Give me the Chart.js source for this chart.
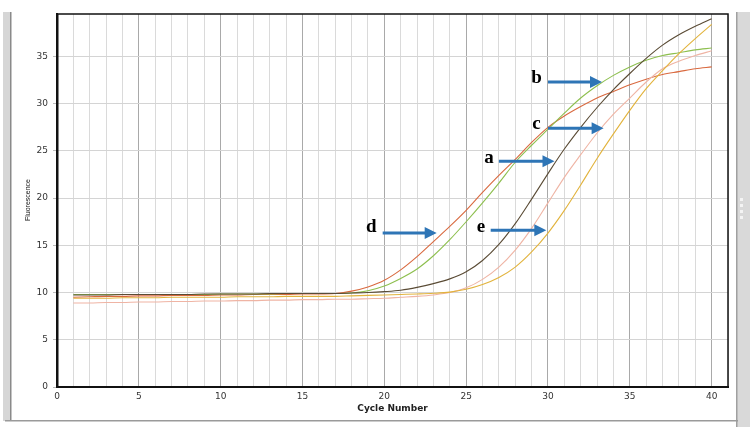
<!DOCTYPE html>
<html>
<head>
<meta charset="utf-8">
<script src="https://cdn.jsdelivr.net/npm/chart.js@4.4.1/dist/chart.umd.min.js"></script>
<style>
  html, body { margin: 0; padding: 0; background: #fff; }
  #wrap { width: 750px; height: 427px; position: relative; }
</style>
</head>
<body>
<div id="wrap"><canvas id="pcrChart" width="750" height="427"></canvas></div>
<script>
// cycle numbers on the x axis
const cycles = [1, 2, 3, 4, 5, 6, 7, 8, 9, 10, 11, 12, 13, 14, 15, 16, 17, 18, 19, 20,
                21, 22, 23, 24, 25, 26, 27, 28, 29, 30, 31, 32, 33, 34, 35, 36, 37, 38, 39, 40];

// fluorescence per cycle, one array per curve
const orangeCurve = [9.5, 9.55, 9.6, 9.6, 9.65, 9.65, 9.7, 9.7, 9.7, 9.75, 9.75, 9.8, 9.8, 9.8, 9.85, 9.85, 9.9, 10.15, 10.6, 11.3,
                     12.4, 13.8, 15.4, 17.0, 18.7, 20.6, 22.4, 24.1, 25.9, 27.5, 28.7, 29.7, 30.6, 31.3, 32.0, 32.6, 33.1, 33.4, 33.7, 33.9];
const greenCurve = [9.8, 9.8, 9.8, 9.8, 9.8, 9.8, 9.8, 9.8, 9.8, 9.85, 9.85, 9.85, 9.85, 9.9, 9.9, 9.9, 9.9, 9.95, 10.2, 10.7,
                    11.5, 12.5, 13.9, 15.6, 17.5, 19.5, 21.6, 23.8, 25.6, 27.3, 29.0, 30.6, 31.9, 33.0, 33.9, 34.6, 35.1, 35.4, 35.7, 35.9];
const darkCurve = [9.75, 9.75, 9.75, 9.8, 9.8, 9.8, 9.8, 9.8, 9.85, 9.85, 9.85, 9.85, 9.9, 9.9, 9.9, 9.9, 9.9, 9.95, 10.0, 10.1,
                   10.25, 10.55, 10.95, 11.45, 12.2, 13.4, 15.1, 17.3, 19.9, 22.6, 25.2, 27.5, 29.6, 31.5, 33.2, 34.8, 36.2, 37.3, 38.2, 39.0];
const pinkCurve = [8.9, 8.9, 8.95, 8.95, 9.0, 9.0, 9.05, 9.05, 9.1, 9.1, 9.15, 9.15, 9.2, 9.2, 9.25, 9.25, 9.3, 9.3, 9.35, 9.4,
                   9.5, 9.6, 9.75, 10.0, 10.5, 11.4, 12.7, 14.5, 16.8, 19.5, 22.2, 24.6, 26.9, 28.9, 30.6, 32.3, 33.7, 34.5, 35.1, 35.6];
const yellowCurve = [9.4, 9.4, 9.4, 9.45, 9.45, 9.45, 9.5, 9.5, 9.5, 9.5, 9.55, 9.55, 9.55, 9.6, 9.6, 9.6, 9.6, 9.65, 9.7, 9.75,
                     9.8, 9.85, 9.92, 10.05, 10.35, 10.85, 11.6, 12.7, 14.3, 16.3, 18.7, 21.4, 24.2, 26.8, 29.3, 31.6, 33.5, 35.3, 36.9, 38.4];

// annotation letters and arrows, in data units (cycle, fluorescence)
const markLetters = ["b", "c", "a", "d", "e"];
const letterX = [29.3, 29.3, 26.4, 19.2, 25.9];
const letterY = [32.7, 27.8, 24.2, 16.9, 16.9];
const arrowFrom = [30.0, 30.0, 27.0, 19.9, 26.5];
const arrowTo = [33.3, 33.4, 30.4, 23.2, 29.9];
const arrowY = [32.3, 27.4, 23.9, 16.3, 16.6];

const toPoints = arr => arr.map((v, i) => ({ x: cycles[i], y: v }));

// 🔹 window frame around the plot (grey side bars, bottom rule)
const framePlugin = {
    id: "frame",
    beforeDraw(chart) {
        const c = chart.ctx;
        c.save();
        c.fillStyle = "#fff";
        c.fillRect(0, 0, chart.width, chart.height);
        // left bar
        c.fillStyle = "#d6d6d6";
        c.fillRect(3, 12, 8, 409);
        c.fillStyle = "#8a8a8a";
        c.fillRect(10, 12, 1.5, 409);
        // right bar
        c.fillStyle = "#d9d9d9";
        c.fillRect(736, 12, 14, 415);
        c.fillStyle = "#a0a0a0";
        c.fillRect(736, 12, 1.5, 415);
        c.fillStyle = "#f4f4f4";
        for (let i = 0; i < 4; i++) c.fillRect(740, 198 + i * 6, 3, 3);
        // bottom rule
        c.fillStyle = "#9a9a9a";
        c.fillRect(5, 420, 733, 1.5);
        c.restore();
    },
    afterDraw(chart) {
        const { ctx: c, chartArea: a } = chart;
        c.save();
        c.strokeStyle = "#111";
        c.lineWidth = 1.5;
        c.strokeRect(a.left, a.top, a.right - a.left, a.bottom - a.top);
        c.fillStyle = "#111";
        c.fillRect(a.left - 1, a.top, 2.5, a.bottom - a.top + 1);
        c.fillRect(a.left - 1, a.bottom - 1, a.right - a.left + 1, 2);
        // y axis title
        c.translate(28, 200);
        c.rotate(-Math.PI / 2);
        c.font = "7px 'Liberation Sans'";
        c.textAlign = "center";
        c.textBaseline = "middle";
        c.fillText("Fluorescence", 0, 0);
        c.restore();
    }
};

// 🔹 letter labels with blue arrows
const arrowPlugin = {
    id: "arrows",
    afterDatasetsDraw(chart) {
        const c = chart.ctx;
        const xs = chart.scales.x, ys = chart.scales.y;
        c.save();
        markLetters.forEach((txt, i) => {
            c.fillStyle = "#000";
            c.font = "bold 19px 'Liberation Serif'";
            c.textAlign = "center";
            c.textBaseline = "middle";
            c.fillText(txt, xs.getPixelForValue(letterX[i]), ys.getPixelForValue(letterY[i]));

            const x0 = xs.getPixelForValue(arrowFrom[i]);
            const x1 = xs.getPixelForValue(arrowTo[i]);
            const y = ys.getPixelForValue(arrowY[i]);
            c.strokeStyle = "#2e75b6";
            c.fillStyle = "#2e75b6";
            c.lineWidth = 3;
            c.beginPath();
            c.moveTo(x0, y);
            c.lineTo(x1 - 10, y);
            c.stroke();
            c.beginPath();
            c.moveTo(x1, y);
            c.lineTo(x1 - 12, y - 6);
            c.lineTo(x1 - 12, y + 6);
            c.closePath();
            c.fill();
        });
        c.restore();
    }
};

const curveSet = (label, data, color) => ({
    label, data: toPoints(data), borderColor: color, backgroundColor: color,
    borderWidth: 1.1, pointRadius: 0, fill: false, cubicInterpolationMode: "monotone"
});

new Chart(document.getElementById("pcrChart").getContext("2d"), {
    type: "line",
    data: {
        datasets: [
            curveSet("yellow", yellowCurve, "#e2b33c"),
            curveSet("pink", pinkCurve, "#efb4a4"),
            curveSet("dark", darkCurve, "#5a4b35"),
            curveSet("green", greenCurve, "#8dbf4e"),
            curveSet("orange", orangeCurve, "#d9693f")
        ]
    },
    options: {
        responsive: false,
        animation: false,
        layout: { padding: { top: 14, right: 22, left: 0, bottom: 0 } },
        plugins: { legend: { display: false }, tooltip: { enabled: false } },
        scales: {
            x: {
                type: "linear", min: 0, max: 41,
                afterFit: s => { s.height = 40; },
                ticks: {
                    stepSize: 1, autoSkip: false, maxRotation: 0, padding: 4,
                    color: "#333", font: { size: 9, family: "'DejaVu Sans'" },
                    callback: v => (v % 5 === 0 ? v : "")
                },
                grid: {
                    drawTicks: false,
                    color: ctx => (ctx.tick && ctx.tick.value % 5 === 0 ? "#a9a9a9" : "#dadada"),
                    lineWidth: 1
                },
                border: { color: "#111", width: 2 },
                title: {
                    display: true, text: "Cycle Number", color: "#222",
                    font: { size: 9, weight: "bold", family: "'DejaVu Sans'" },
                    padding: { top: 0, bottom: 13 }
                }
            },
            y: {
                min: 0, max: 39.5,
                afterFit: s => { s.width = 57; },
                afterBuildTicks: s => { s.ticks = s.ticks.filter(t => t.value % 5 === 0); },
                ticks: {
                    stepSize: 5, padding: 5, color: "#333",
                    font: { size: 9, family: "'DejaVu Sans'" }
                },
                grid: { color: "#d4d4d4", tickLength: 4, tickColor: "#bbb" },
                border: { color: "#111", width: 2 }
            }
        }
    },
    plugins: [framePlugin, arrowPlugin]
});
</script>
</body>
</html>
